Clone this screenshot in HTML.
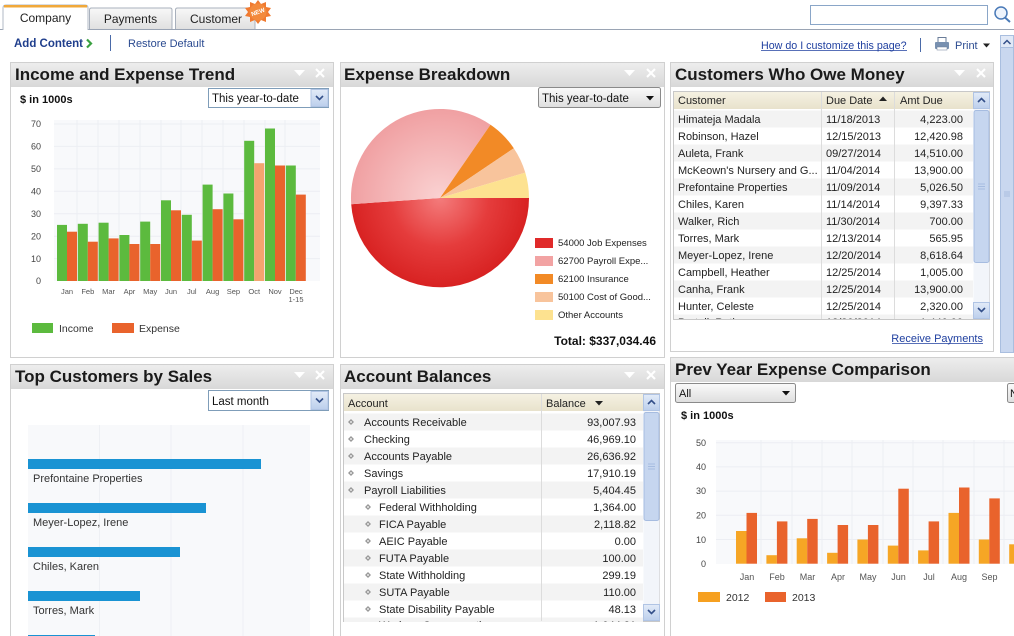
<!DOCTYPE html>
<html><head><meta charset="utf-8">
<style>
html,body{margin:0;padding:0;background:#fff;width:1014px;height:636px;overflow:hidden}
svg{display:block;font-family:"Liberation Sans",Arial,sans-serif}
</style></head><body>
<svg width="1014" height="636" viewBox="0 0 1014 636" xmlns="http://www.w3.org/2000/svg">
<defs>
<linearGradient id="tb" x1="0" y1="0" x2="0" y2="1"><stop offset="0" stop-color="#ededed"/><stop offset="1" stop-color="#d8d8d8"/></linearGradient>
<linearGradient id="tab" x1="0" y1="0" x2="0" y2="1"><stop offset="0" stop-color="#f8f8f8"/><stop offset="1" stop-color="#e0e0e0"/></linearGradient>
<linearGradient id="dd" x1="0" y1="0" x2="0" y2="1"><stop offset="0" stop-color="#fafafa"/><stop offset="1" stop-color="#dedede"/></linearGradient>
<linearGradient id="ab" x1="0" y1="0" x2="0" y2="1"><stop offset="0" stop-color="#e2ebf8"/><stop offset="1" stop-color="#bccfec"/></linearGradient>
<linearGradient id="hd" x1="0" y1="0" x2="0" y2="1"><stop offset="0" stop-color="#f5f1e2"/><stop offset="1" stop-color="#e8e2cc"/></linearGradient>
<radialGradient id="rg" cx="440" cy="198" r="89" gradientUnits="userSpaceOnUse"><stop offset="0" stop-color="#f47c7c"/><stop offset="0.55" stop-color="#e53c3c"/><stop offset="1" stop-color="#d82222"/></radialGradient>
<radialGradient id="pg" cx="440" cy="198" r="89" gradientUnits="userSpaceOnUse"><stop offset="0" stop-color="#fad2d2"/><stop offset="1" stop-color="#f0a0a2"/></radialGradient>
<clipPath id="c3"><rect x="674" y="109" width="299" height="210"/></clipPath>
<clipPath id="c5"><rect x="344" y="412" width="299" height="210"/></clipPath>
<clipPath id="c6"><rect x="670" y="357" width="344" height="279"/></clipPath>
</defs>

<!-- ===== Top tabs ===== -->
<line x1="0" y1="29.5" x2="1014" y2="29.5" stroke="#9aa4b4"/>
<path d="M3,30 L3,8 Q3,5 6,5 L85,5 Q88,5 88,8 L88,30" fill="#fff" stroke="#b0b8c4"/>
<rect x="4" y="5" width="83" height="2.5" fill="#f0a83a"/>
<text x="45.5" y="22" font-size="12" text-anchor="middle" fill="#222">Company</text>
<path d="M89.5,29 L89.5,10 Q89.5,8 91.5,8 L170,8 Q172,8 172,10 L172,29" fill="url(#tab)" stroke="#a8b0bc"/>
<text x="130.5" y="23" font-size="12" text-anchor="middle" fill="#222">Payments</text>
<path d="M175.5,29 L175.5,10 Q175.5,8 177.5,8 L253,8 Q255,8 255,10 L255,29" fill="url(#tab)" stroke="#a8b0bc"/>
<text x="216" y="23" font-size="12" text-anchor="middle" fill="#222">Customer</text>
<polygon points="258,0 261,4 266,2 266,7 271,8 268,12 271,16 266,17 266,22 261,20 258,24 255,20 250,22 250,17 245,16 248,12 245,8 250,7 250,2 255,4" fill="#f07a30"/>
<circle cx="258" cy="12" r="8.5" fill="#f38a3c"/>
<text x="258" y="14" font-size="6" font-weight="bold" text-anchor="middle" fill="#fff" transform="rotate(-20 258 12)">NEW</text>

<rect x="810.5" y="5.5" width="177" height="19" fill="#fff" stroke="#8aa6c8"/>
<circle cx="1001" cy="13" r="6" fill="#eef4fc" stroke="#4a7ab8" stroke-width="1.5"/>
<line x1="1005" y1="17.5" x2="1010" y2="22" stroke="#4a7ab8" stroke-width="2"/>

<!-- second row -->
<text x="14" y="47" font-size="11.5" font-weight="bold" fill="#1f3e8c">Add Content</text>
<polyline points="87,39.5 91,43.5 87,47.5" fill="none" stroke="#3aa040" stroke-width="2.2"/>
<line x1="110.5" y1="35" x2="110.5" y2="51" stroke="#4a6aa8"/>
<text x="128" y="47" font-size="11" fill="#2a4a90">Restore Default</text>

<text x="761" y="49" font-size="10.7" fill="#2040a0">How do I customize this page?</text>
<line x1="761" y1="50.5" x2="907" y2="50.5" stroke="#2040a0" stroke-width="0.8"/>
<line x1="920.5" y1="38" x2="920.5" y2="52" stroke="#4a6aa8"/>
<rect x="938" y="37.5" width="8" height="5" fill="#fff" stroke="#6a7c98"/>
<rect x="935" y="42" width="14" height="7" rx="1" fill="#7890b0"/>
<rect x="937" y="47" width="10" height="3" fill="#fff" stroke="#6a7c98" stroke-width="0.5"/>
<text x="955" y="49" font-size="11" fill="#2a4a90">Print</text>
<polygon points="983,43.5 990,43.5 986.5,47.5" fill="#222"/>

<!-- page scrollbar -->
<rect x="1000.5" y="35.5" width="13" height="317" fill="#c9d7ef" stroke="#a9bedf"/>
<rect x="1000.5" y="35.5" width="13" height="12" fill="#e1e9f7" stroke="#a9bedf"/>
<polyline points="1003.5,44 1007,40.5 1010.5,44" fill="none" stroke="#34508a" stroke-width="1.5"/>
<g stroke="#a9bedf"><line x1="1004" y1="192" x2="1010" y2="192"/><line x1="1004" y1="194" x2="1010" y2="194"/><line x1="1004" y1="196" x2="1010" y2="196"/></g>

<!-- ===== Panel 1: Income and Expense Trend ===== -->
<rect x="10.5" y="62.5" width="323" height="295" fill="#fff" stroke="#d0d0d0"/>
<rect x="11" y="63" width="322" height="24" fill="url(#tb)"/>
<text x="15" y="80" font-size="17" font-weight="bold" fill="#1a1a1a">Income and Expense Trend</text>
<polygon points="294,70 305,70 299.5,76" fill="#fff"/>
<g stroke="#fff" stroke-width="2"><line x1="316" y1="69" x2="324" y2="77"/><line x1="324" y1="69" x2="316" y2="77"/></g>

<text x="20" y="103" font-size="11" font-weight="bold" fill="#111">$ in 1000s</text>
<rect x="208.5" y="88.5" width="120" height="19" fill="#fff" stroke="#7f9db9"/>
<text x="212" y="102" font-size="11.5" fill="#111">This year-to-date</text>
<rect x="311" y="89.5" width="17" height="17" fill="url(#ab)" stroke="#b0c4e4"/>
<polyline points="316,96 319.5,99.5 323,96" fill="none" stroke="#34508a" stroke-width="1.6"/>

<rect x="54" y="120" width="266" height="161" fill="#f8f9fb"/>
<g stroke="#eceef3" stroke-width="1">
<line x1="54" y1="124" x2="320" y2="124"/><line x1="54" y1="146.4" x2="320" y2="146.4"/><line x1="54" y1="168.9" x2="320" y2="168.9"/><line x1="54" y1="191.3" x2="320" y2="191.3"/><line x1="54" y1="213.7" x2="320" y2="213.7"/><line x1="54" y1="236.2" x2="320" y2="236.2"/><line x1="54" y1="258.6" x2="320" y2="258.6"/>
<line x1="77" y1="120" x2="77" y2="281"/><line x1="98" y1="120" x2="98" y2="281"/><line x1="119" y1="120" x2="119" y2="281"/><line x1="140" y1="120" x2="140" y2="281"/><line x1="161" y1="120" x2="161" y2="281"/><line x1="181" y1="120" x2="181" y2="281"/><line x1="202" y1="120" x2="202" y2="281"/><line x1="223" y1="120" x2="223" y2="281"/><line x1="244" y1="120" x2="244" y2="281"/><line x1="265" y1="120" x2="265" y2="281"/><line x1="285" y1="120" x2="285" y2="281"/>
</g>
<g font-size="9" fill="#444" text-anchor="end">
<text x="41" y="127">70</text><text x="41" y="149.5">60</text><text x="41" y="172">50</text><text x="41" y="194.5">40</text><text x="41" y="217">30</text><text x="41" y="239.5">20</text><text x="41" y="262">10</text><text x="41" y="284">0</text>
</g>
<g fill="#5cba3e">
<rect x="57" y="224.9" width="10" height="56.1"/>
<rect x="77.8" y="223.8" width="10" height="57.2"/>
<rect x="98.6" y="222.7" width="10" height="58.3"/>
<rect x="119.4" y="235" width="10" height="46"/>
<rect x="140.2" y="221.6" width="10" height="59.4"/>
<rect x="161" y="200.3" width="10" height="80.7"/>
<rect x="181.8" y="214.8" width="10" height="66.2"/>
<rect x="202.6" y="184.6" width="10" height="96.4"/>
<rect x="223.4" y="193.5" width="10" height="87.5"/>
<rect x="244.2" y="140.8" width="10" height="140.2"/>
<rect x="265" y="128.5" width="10" height="152.5"/>
<rect x="285.8" y="165.5" width="10" height="115.5"/>
</g>
<g fill="#e9632c">
<rect x="67" y="231.7" width="10" height="49.3"/>
<rect x="87.8" y="241.7" width="10" height="39.3"/>
<rect x="108.6" y="238.4" width="10" height="42.6"/>
<rect x="129.4" y="244" width="10" height="37"/>
<rect x="150.2" y="244" width="10" height="37"/>
<rect x="171" y="210.3" width="10" height="70.7"/>
<rect x="191.8" y="240.6" width="10" height="40.4"/>
<rect x="212.6" y="209.2" width="10" height="71.8"/>
<rect x="233.4" y="219.3" width="10" height="61.7"/>
<rect x="275" y="165.5" width="10" height="115.5"/>
<rect x="295.8" y="194.6" width="10" height="86.4"/>
</g>
<rect x="254.2" y="163.2" width="10" height="117.8" fill="#f3a46f"/>
<g font-size="7.5" fill="#555" text-anchor="middle">
<text x="67" y="294">Jan</text><text x="87.8" y="294">Feb</text><text x="108.6" y="294">Mar</text><text x="129.4" y="294">Apr</text><text x="150.2" y="294">May</text><text x="171" y="294">Jun</text><text x="191.8" y="294">Jul</text><text x="212.6" y="294">Aug</text><text x="233.4" y="294">Sep</text><text x="254.2" y="294">Oct</text><text x="275" y="294">Nov</text><text x="296" y="294">Dec</text><text x="296" y="302">1-15</text>
</g>
<rect x="32" y="323" width="21" height="10" fill="#5cba3e"/>
<text x="59" y="332" font-size="10.5" fill="#333">Income</text>
<rect x="112" y="323" width="22" height="10" fill="#e9632c"/>
<text x="139" y="332" font-size="10.5" fill="#333">Expense</text>

<!-- ===== Panel 2: Expense Breakdown ===== -->
<rect x="340.5" y="62.5" width="324" height="295" fill="#fff" stroke="#d0d0d0"/>
<rect x="341" y="63" width="323" height="24" fill="url(#tb)"/>
<text x="344" y="80" font-size="17" font-weight="bold" fill="#1a1a1a">Expense Breakdown</text>
<polygon points="624,70 635,70 629.5,76" fill="#fff"/>
<g stroke="#fff" stroke-width="2"><line x1="647" y1="69" x2="655" y2="77"/><line x1="655" y1="69" x2="647" y2="77"/></g>
<rect x="538.5" y="87.5" width="122" height="20" rx="2" fill="url(#dd)" stroke="#8a8a8a"/>
<text x="542" y="102" font-size="11.5" fill="#111">This year-to-date</text>
<polygon points="646,96 654,96 650,100.5" fill="#111"/>

<path d="M440,198 L529,198 A89,89 0 0 1 351.2,204.2 Z" fill="url(#rg)"/>
<path d="M440,198 L351.2,204.2 A89,89 0 0 1 490.5,124.7 Z" fill="url(#pg)"/>
<path d="M440,198 L490.5,124.7 A89,89 0 0 1 513.8,148.2 Z" fill="#f28a26"/>
<path d="M440,198 L513.8,148.2 A89,89 0 0 1 525.3,172.6 Z" fill="#f8c49c"/>
<path d="M440,198 L525.3,172.6 A89,89 0 0 1 529,198 Z" fill="#fde290"/>

<g font-size="9.5" fill="#222">
<rect x="535" y="238" width="18" height="10" fill="#e02a2a"/><text x="558" y="246">54000 Job Expenses</text>
<rect x="535" y="256" width="18" height="10" fill="#f2a3a3"/><text x="558" y="264">62700 Payroll Expe...</text>
<rect x="535" y="274" width="18" height="10" fill="#f28a26"/><text x="558" y="282">62100 Insurance</text>
<rect x="535" y="292" width="18" height="10" fill="#f8c49c"/><text x="558" y="300">50100 Cost of Good...</text>
<rect x="535" y="310" width="18" height="10" fill="#fde290"/><text x="558" y="318">Other Accounts</text>
</g>
<text x="656" y="345" font-size="12" font-weight="bold" text-anchor="end" fill="#111">Total: $337,034.46</text>

<!-- ===== Panel 3: Customers Who Owe Money ===== -->
<rect x="670.5" y="62.5" width="323" height="289" fill="#fff" stroke="#d0d0d0"/>
<rect x="671" y="63" width="322" height="24" fill="url(#tb)"/>
<text x="675" y="80" font-size="17" font-weight="bold" fill="#1a1a1a">Customers Who Owe Money</text>
<polygon points="954,70 965,70 959.5,76" fill="#fff"/>
<g stroke="#fff" stroke-width="2"><line x1="977" y1="69" x2="985" y2="77"/><line x1="985" y1="69" x2="977" y2="77"/></g>

<rect x="673.5" y="91.5" width="316" height="228" fill="#fff" stroke="#c8c8c8"/>
<rect x="674" y="92" width="299" height="17" fill="url(#hd)"/>
<g clip-path="url(#c3)" fill="#f3f3f3">
<rect x="674" y="110.5" width="299" height="17"/><rect x="674" y="144.5" width="299" height="17"/><rect x="674" y="178.5" width="299" height="17"/><rect x="674" y="212.5" width="299" height="17"/><rect x="674" y="246.5" width="299" height="17"/><rect x="674" y="280.5" width="299" height="17"/><rect x="674" y="314.5" width="299" height="17"/>
</g>
<g stroke="#dcdcdc"><line x1="821.5" y1="92" x2="821.5" y2="319"/><line x1="894.5" y1="92" x2="894.5" y2="319"/></g>
<g font-size="11" fill="#222">
<text x="678" y="104">Customer</text><text x="826" y="104">Due Date</text><text x="900" y="104">Amt Due</text>
</g>
<polygon points="879,101 887,101 883,96.5" fill="#222"/>
<g clip-path="url(#c3)" font-size="11" fill="#222">
<text x="678" y="123">Himateja Madala</text><text x="826" y="123">11/18/2013</text><text x="963" y="123" text-anchor="end">4,223.00</text>
<text x="678" y="140">Robinson, Hazel</text><text x="826" y="140">12/15/2013</text><text x="963" y="140" text-anchor="end">12,420.98</text>
<text x="678" y="157">Auleta, Frank</text><text x="826" y="157">09/27/2014</text><text x="963" y="157" text-anchor="end">14,510.00</text>
<text x="678" y="174">McKeown's Nursery and G...</text><text x="826" y="174">11/04/2014</text><text x="963" y="174" text-anchor="end">13,900.00</text>
<text x="678" y="191">Prefontaine Properties</text><text x="826" y="191">11/09/2014</text><text x="963" y="191" text-anchor="end">5,026.50</text>
<text x="678" y="208">Chiles, Karen</text><text x="826" y="208">11/14/2014</text><text x="963" y="208" text-anchor="end">9,397.33</text>
<text x="678" y="225">Walker, Rich</text><text x="826" y="225">11/30/2014</text><text x="963" y="225" text-anchor="end">700.00</text>
<text x="678" y="242">Torres, Mark</text><text x="826" y="242">12/13/2014</text><text x="963" y="242" text-anchor="end">565.95</text>
<text x="678" y="259">Meyer-Lopez, Irene</text><text x="826" y="259">12/20/2014</text><text x="963" y="259" text-anchor="end">8,618.64</text>
<text x="678" y="276">Campbell, Heather</text><text x="826" y="276">12/25/2014</text><text x="963" y="276" text-anchor="end">1,005.00</text>
<text x="678" y="293">Canha, Frank</text><text x="826" y="293">12/25/2014</text><text x="963" y="293" text-anchor="end">13,900.00</text>
<text x="678" y="310">Hunter, Celeste</text><text x="826" y="310">12/25/2014</text><text x="963" y="310" text-anchor="end">2,320.00</text>
<text x="678" y="326">Pretell, Ruth</text><text x="826" y="326">12/30/2014</text><text x="963" y="326" text-anchor="end">1,440.00</text>
</g>
<rect x="973.5" y="92" width="16" height="227" fill="#f2f5fa"/>
<rect x="973.5" y="92.5" width="16" height="16" fill="url(#ab)" stroke="#b0c4e4"/>
<polyline points="978,102 981.5,98.5 985,102" fill="none" stroke="#34508a" stroke-width="1.6"/>
<rect x="974" y="110.5" width="15" height="152" rx="2" fill="#c6d6ef" stroke="#a6bce0"/>
<g stroke="#a6bce0"><line x1="978" y1="184" x2="985" y2="184"/><line x1="978" y1="186.5" x2="985" y2="186.5"/><line x1="978" y1="189" x2="985" y2="189"/></g>
<rect x="973.5" y="302.5" width="16" height="16" fill="url(#ab)" stroke="#b0c4e4"/>
<polyline points="978,308 981.5,311.5 985,308" fill="none" stroke="#34508a" stroke-width="1.6"/>
<text x="983" y="342" font-size="11" text-anchor="end" fill="#2040a0">Receive Payments</text>
<line x1="892" y1="343.5" x2="983" y2="343.5" stroke="#2040a0" stroke-width="0.8"/>

<!-- ===== Panel 4: Top Customers by Sales ===== -->
<rect x="10.5" y="364.5" width="323" height="280" fill="#fff" stroke="#d0d0d0"/>
<rect x="11" y="365" width="322" height="24" fill="url(#tb)"/>
<text x="15" y="382" font-size="17" font-weight="bold" fill="#1a1a1a">Top Customers by Sales</text>
<polygon points="294,372 305,372 299.5,378" fill="#fff"/>
<g stroke="#fff" stroke-width="2"><line x1="316" y1="371" x2="324" y2="379"/><line x1="324" y1="371" x2="316" y2="379"/></g>
<rect x="208.5" y="390.5" width="120" height="20" fill="#fff" stroke="#7f9db9"/>
<text x="212" y="405" font-size="11.5" fill="#111">Last month</text>
<rect x="311" y="391.5" width="17" height="18" fill="url(#ab)" stroke="#b0c4e4"/>
<polyline points="316,398.5 319.5,402 323,398.5" fill="none" stroke="#34508a" stroke-width="1.6"/>
<rect x="28" y="425" width="282" height="211" fill="#f8f9fb"/>
<g stroke="#eef0f4"><line x1="99.5" y1="425" x2="99.5" y2="636"/><line x1="171" y1="425" x2="171" y2="636"/><line x1="243" y1="425" x2="243" y2="636"/></g>
<g fill="#1a93d3">
<rect x="28" y="459" width="233" height="10"/><rect x="28" y="503" width="178" height="10"/><rect x="28" y="547" width="152" height="10"/><rect x="28" y="591" width="112" height="10"/><rect x="28" y="635" width="67" height="10"/>
</g>
<g font-size="11" fill="#333">
<text x="33" y="482">Prefontaine Properties</text><text x="33" y="526">Meyer-Lopez, Irene</text><text x="33" y="570">Chiles, Karen</text><text x="33" y="614">Torres, Mark</text>
</g>

<!-- ===== Panel 5: Account Balances ===== -->
<rect x="340.5" y="364.5" width="324" height="280" fill="#fff" stroke="#d0d0d0"/>
<rect x="341" y="365" width="323" height="24" fill="url(#tb)"/>
<text x="344" y="382" font-size="17" font-weight="bold" fill="#1a1a1a">Account Balances</text>
<polygon points="624,372 635,372 629.5,378" fill="#fff"/>
<g stroke="#fff" stroke-width="2"><line x1="647" y1="371" x2="655" y2="379"/><line x1="655" y1="371" x2="647" y2="379"/></g>

<rect x="343.5" y="393.5" width="316" height="228" fill="#fff" stroke="#c8c8c8"/>
<rect x="344" y="394" width="299" height="17" fill="url(#hd)"/>
<g clip-path="url(#c5)" fill="#f3f3f3">
<rect x="344" y="413.5" width="299" height="17"/><rect x="344" y="447.5" width="299" height="17"/><rect x="344" y="481.5" width="299" height="17"/><rect x="344" y="515.5" width="299" height="17"/><rect x="344" y="549.5" width="299" height="17"/><rect x="344" y="583.5" width="299" height="17"/><rect x="344" y="617.5" width="299" height="17"/>
</g>
<line x1="541.5" y1="394" x2="541.5" y2="621" stroke="#dcdcdc"/>
<text x="348" y="407" font-size="11" fill="#222">Account</text>
<text x="546" y="407" font-size="11" fill="#222">Balance</text>
<polygon points="595,401 603,401 599,405.5" fill="#222"/>
<g clip-path="url(#c5)">
<g fill="#999">
<polygon points="351,419 354,422 351,425 348,422"/><polygon points="351,436 354,439 351,442 348,439"/><polygon points="351,453 354,456 351,459 348,456"/><polygon points="351,470 354,473 351,476 348,473"/><polygon points="351,487 354,490 351,493 348,490"/>
<polygon points="368,504 371,507 368,510 365,507"/><polygon points="368,521 371,524 368,527 365,524"/><polygon points="368,538 371,541 368,544 365,541"/><polygon points="368,555 371,558 368,561 365,558"/><polygon points="368,572 371,575 368,578 365,575"/><polygon points="368,589 371,592 368,595 365,592"/><polygon points="368,606 371,609 368,612 365,609"/><polygon points="368,623 371,626 368,629 365,626"/>
</g>
<g fill="#fff"><circle cx="351" cy="422" r="0.9"/><circle cx="351" cy="439" r="0.9"/><circle cx="351" cy="456" r="0.9"/><circle cx="351" cy="473" r="0.9"/><circle cx="351" cy="490" r="0.9"/><circle cx="368" cy="507" r="0.9"/><circle cx="368" cy="524" r="0.9"/><circle cx="368" cy="541" r="0.9"/><circle cx="368" cy="558" r="0.9"/><circle cx="368" cy="575" r="0.9"/><circle cx="368" cy="592" r="0.9"/><circle cx="368" cy="609" r="0.9"/></g>
<g font-size="11" fill="#222">
<text x="364" y="426">Accounts Receivable</text><text x="636" y="426" text-anchor="end">93,007.93</text>
<text x="364" y="443">Checking</text><text x="636" y="443" text-anchor="end">46,969.10</text>
<text x="364" y="460">Accounts Payable</text><text x="636" y="460" text-anchor="end">26,636.92</text>
<text x="364" y="477">Savings</text><text x="636" y="477" text-anchor="end">17,910.19</text>
<text x="364" y="494">Payroll Liabilities</text><text x="636" y="494" text-anchor="end">5,404.45</text>
<text x="379" y="511">Federal Withholding</text><text x="636" y="511" text-anchor="end">1,364.00</text>
<text x="379" y="528">FICA Payable</text><text x="636" y="528" text-anchor="end">2,118.82</text>
<text x="379" y="545">AEIC Payable</text><text x="636" y="545" text-anchor="end">0.00</text>
<text x="379" y="562">FUTA Payable</text><text x="636" y="562" text-anchor="end">100.00</text>
<text x="379" y="579">State Withholding</text><text x="636" y="579" text-anchor="end">299.19</text>
<text x="379" y="596">SUTA Payable</text><text x="636" y="596" text-anchor="end">110.00</text>
<text x="379" y="613">State Disability Payable</text><text x="636" y="613" text-anchor="end">48.13</text>
<text x="379" y="629">Workers Compensation</text><text x="636" y="629" text-anchor="end">1,044.21</text>
</g>
</g>
<rect x="643.5" y="394" width="16" height="227" fill="#f2f5fa"/>
<rect x="643.5" y="394.5" width="16" height="16" fill="url(#ab)" stroke="#b0c4e4"/>
<polyline points="648,404 651.5,400.5 655,404" fill="none" stroke="#34508a" stroke-width="1.6"/>
<rect x="644" y="412.5" width="15" height="108" rx="2" fill="#c6d6ef" stroke="#a6bce0"/>
<g stroke="#a6bce0"><line x1="648" y1="464" x2="655" y2="464"/><line x1="648" y1="466.5" x2="655" y2="466.5"/><line x1="648" y1="469" x2="655" y2="469"/></g>
<rect x="643.5" y="604.5" width="16" height="16" fill="url(#ab)" stroke="#b0c4e4"/>
<polyline points="648,610 651.5,613.5 655,610" fill="none" stroke="#34508a" stroke-width="1.6"/>

<!-- ===== Panel 6: Prev Year Expense Comparison ===== -->
<g clip-path="url(#c6)">
<rect x="670.5" y="357.5" width="350" height="290" fill="#fff" stroke="#d0d0d0"/>
<rect x="671" y="358" width="350" height="24" fill="url(#tb)"/>
<text x="675" y="375" font-size="17" font-weight="bold" fill="#1a1a1a">Prev Year Expense Comparison</text>
<rect x="675.5" y="383.5" width="120" height="19" rx="2" fill="url(#dd)" stroke="#8a8a8a"/>
<text x="679" y="397" font-size="11" fill="#111">All</text>
<polygon points="782,391 790,391 786,395.5" fill="#111"/>
<rect x="1007.5" y="383.5" width="20" height="19" rx="2" fill="url(#dd)" stroke="#8a8a8a"/>
<text x="1010" y="397" font-size="11" fill="#111">N</text>
<text x="681" y="419" font-size="11" font-weight="bold" fill="#111">$ in 1000s</text>

<rect x="716" y="440" width="300" height="124" fill="#f8f9fb"/>
<g stroke="#eceef3">
<line x1="716" y1="442.7" x2="1014" y2="442.7"/><line x1="716" y1="466.9" x2="1014" y2="466.9"/><line x1="716" y1="491.1" x2="1014" y2="491.1"/><line x1="716" y1="515.3" x2="1014" y2="515.3"/><line x1="716" y1="539.5" x2="1014" y2="539.5"/>
<line x1="761" y1="440" x2="761" y2="564"/><line x1="792" y1="440" x2="792" y2="564"/><line x1="822" y1="440" x2="822" y2="564"/><line x1="852" y1="440" x2="852" y2="564"/><line x1="883" y1="440" x2="883" y2="564"/><line x1="913" y1="440" x2="913" y2="564"/><line x1="943" y1="440" x2="943" y2="564"/><line x1="974" y1="440" x2="974" y2="564"/><line x1="1004" y1="440" x2="1004" y2="564"/>
</g>
<g font-size="9" fill="#444" text-anchor="end">
<text x="706" y="446">50</text><text x="706" y="470">40</text><text x="706" y="494">30</text><text x="706" y="518.5">20</text><text x="706" y="543">10</text><text x="706" y="567">0</text>
</g>
<g fill="#f6a625">
<rect x="736" y="531" width="10.5" height="32.7"/>
<rect x="766.4" y="555.2" width="10.5" height="8.5"/>
<rect x="796.7" y="538.3" width="10.5" height="25.4"/>
<rect x="827.1" y="552.8" width="10.5" height="10.9"/>
<rect x="857.4" y="539.5" width="10.5" height="24.2"/>
<rect x="887.8" y="545.6" width="10.5" height="18.1"/>
<rect x="918.1" y="550.4" width="10.5" height="13.3"/>
<rect x="948.5" y="512.9" width="10.5" height="50.8"/>
<rect x="978.8" y="539.5" width="10.5" height="24.2"/>
<rect x="1009.2" y="544.3" width="10.5" height="19.4"/>
</g>
<g fill="#e9632c">
<rect x="746.5" y="512.9" width="10.5" height="50.8"/>
<rect x="776.9" y="521.4" width="10.5" height="42.3"/>
<rect x="807.2" y="518.9" width="10.5" height="44.8"/>
<rect x="837.6" y="525" width="10.5" height="38.7"/>
<rect x="867.9" y="525" width="10.5" height="38.7"/>
<rect x="898.3" y="488.7" width="10.5" height="75"/>
<rect x="928.6" y="521.4" width="10.5" height="42.3"/>
<rect x="959" y="487.5" width="10.5" height="76.2"/>
<rect x="989.3" y="498.4" width="10.5" height="65.3"/>
</g>
<g font-size="9" fill="#555" text-anchor="middle">
<text x="747" y="580">Jan</text><text x="777" y="580">Feb</text><text x="807.5" y="580">Mar</text><text x="838" y="580">Apr</text><text x="868" y="580">May</text><text x="898.5" y="580">Jun</text><text x="929" y="580">Jul</text><text x="959" y="580">Aug</text><text x="989.5" y="580">Sep</text>
</g>
<rect x="698" y="592" width="22" height="10" fill="#f6a020"/>
<text x="726" y="601" font-size="10.5" fill="#333">2012</text>
<rect x="765" y="592" width="21" height="10" fill="#e9632c"/>
<text x="792" y="601" font-size="10.5" fill="#333">2013</text>
</g>
</svg>
</body></html>
